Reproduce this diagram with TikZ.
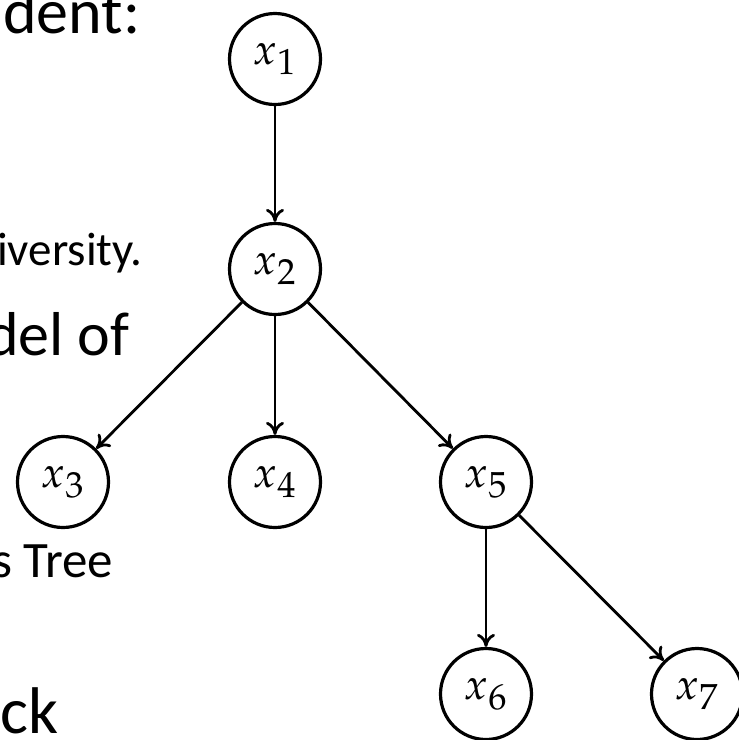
\documentclass[tikz,border=0pt]{standalone}
\usepackage{mathpazo}
\usepackage{graphicx}
\usepackage{fontspec}
\setmainfont{Carlito}
\usetikzlibrary{arrows.meta}
\newcommand{\xvar}[1]{\scalebox{1.75}{$x_{#1}$}}
\begin{document}
\begin{tikzpicture}[x=1pt,y=-1pt,
  var/.style={circle, draw, line width=3.2pt, minimum size=91pt, inner sep=0pt, font=\fontsize{24.88}{30}\selectfont},
  edge/.style={line width=2.8pt, -{To[length=13pt,width=18pt]}},
  slide/.style={anchor=base west, inner sep=0pt},
  big/.style={slide, font=\fontsize{64}{76}\selectfont},
  dl/.style={slide, font=\fontsize{62}{74}\selectfont},
  small/.style={slide, font=\fontsize{47}{56}\selectfont},
  mid/.style={slide, font=\fontsize{51}{61}\selectfont},
  ckf/.style={slide, font=\fontsize{66}{78}\selectfont}]
\useasboundingbox (0,0) rectangle (739,740);
\node[var] (x1) at (275,59) {\xvar{1}};
\node[var] (x2) at (275,269) {\xvar{2}};
\node[var] (x3) at (63,482) {\xvar{3}};
\node[var] (x4) at (275,482) {\xvar{4}};
\node[var] (x5) at (486,482) {\xvar{5}};
\node[var] (x6) at (486,694) {\xvar{6}};
\node[var] (x7) at (697,694) {\xvar{7}};
\draw[edge] (x1) -- (x2);
\draw[edge] (x2) -- (x3);
\draw[edge] (x2) -- (x4);
\draw[edge] (x2) -- (x5);
\draw[edge] (x5) -- (x6);
\draw[edge] (x5) -- (x7);
\node[big] (t1) at (3,33) {dent:};
\node[small] (t2) at (-3,265) {iversity.};
\node[dl] (t3) at (-14,355) {del of};
\node[mid] (t4) at (-8,577) {s Tree};
\node[ckf] (t5) at (0,733) {ck};
\end{tikzpicture}
\end{document}
